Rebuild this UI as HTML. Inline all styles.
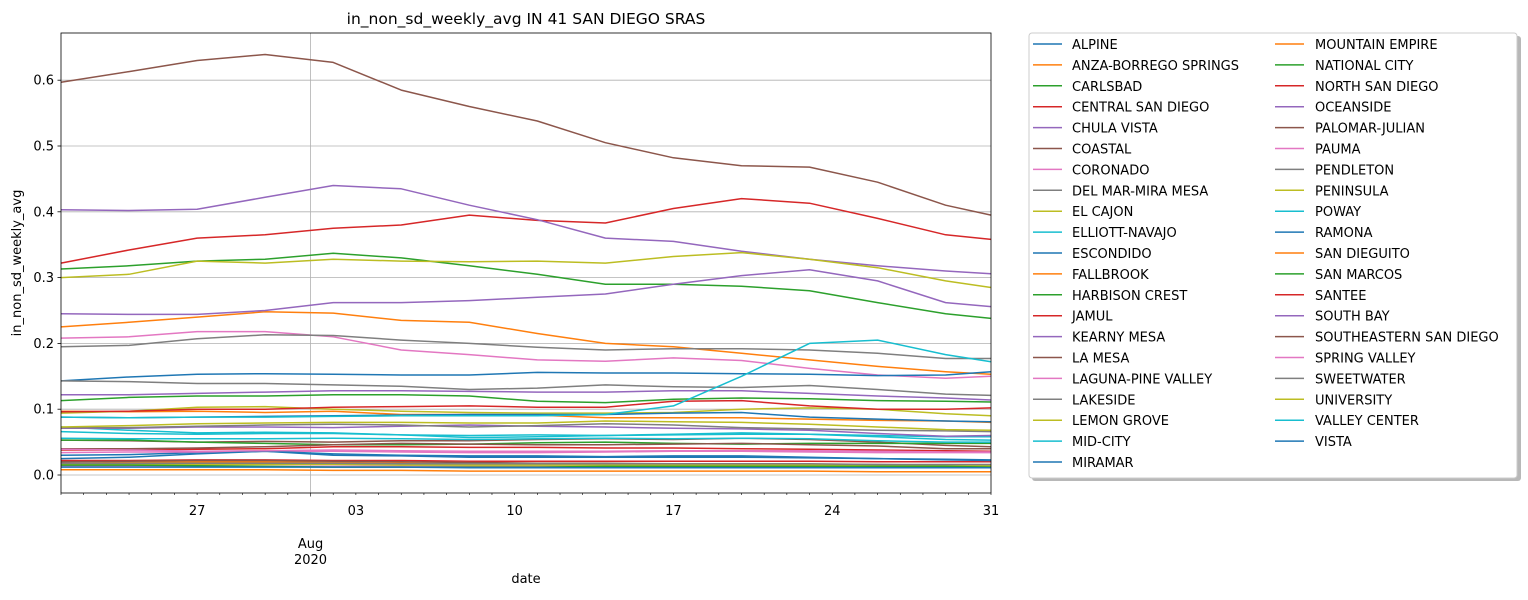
<!DOCTYPE html>
<html><head><meta charset="utf-8">
<style>
body{margin:0;background:#fff;width:1528px;height:596px;overflow:hidden;font-family:"DejaVu Sans","Liberation Sans",sans-serif;}
svg text{font-family:"DejaVu Sans","Liberation Sans",sans-serif;}
</style></head>
<body>
<svg id="chart" width="1528" height="596" xmlns="http://www.w3.org/2000/svg">
<text x="526" y="24" text-anchor="middle" font-size="15.5" fill="#000">in_non_sd_weekly_avg IN 41 SAN DIEGO SRAS</text>
<g id="grid"></g><g id="series"></g><g id="axes"></g><g id="legend"></g>
</svg>
<script>
const sampleDays = [0,3,6,9,12,15,18,21,24,27,30,33,36,39,41];
const yTicks = [0.0,0.1,0.2,0.3,0.4,0.5,0.6];
const xTickLabels = ["27","03","10","17","24","31"];
const xTickDays = [6,13,20,27,34,41];
const names = ["ALPINE","ANZA-BORREGO SPRINGS","CARLSBAD","CENTRAL SAN DIEGO","CHULA VISTA","COASTAL","CORONADO","DEL MAR-MIRA MESA","EL CAJON","ELLIOTT-NAVAJO","ESCONDIDO","FALLBROOK","HARBISON CREST","JAMUL","KEARNY MESA","LA MESA","LAGUNA-PINE VALLEY","LAKESIDE","LEMON GROVE","MID-CITY","MIRAMAR","MOUNTAIN EMPIRE","NATIONAL CITY","NORTH SAN DIEGO","OCEANSIDE","PALOMAR-JULIAN","PAUMA","PENDLETON","PENINSULA","POWAY","RAMONA","SAN DIEGUITO","SAN MARCOS","SANTEE","SOUTH BAY","SOUTHEASTERN SAN DIEGO","SPRING VALLEY","SWEETWATER","UNIVERSITY","VALLEY CENTER","VISTA"];
const s0=[0.03,0.031,0.034,0.036,0.03,0.029,0.027,0.027,0.027,0.027,0.027,0.026,0.025,0.024,0.023];
const s1=[0.225,0.232,0.24,0.248,0.246,0.235,0.232,0.215,0.2,0.195,0.185,0.175,0.165,0.157,0.153];
const s2=[0.313,0.318,0.325,0.328,0.337,0.33,0.318,0.305,0.29,0.29,0.287,0.28,0.262,0.245,0.238];
const s3=[0.322,0.342,0.36,0.365,0.375,0.38,0.395,0.387,0.383,0.405,0.42,0.413,0.39,0.365,0.358];
const s4=[0.403,0.402,0.404,0.422,0.44,0.435,0.41,0.388,0.36,0.355,0.34,0.328,0.318,0.31,0.306];
const s5=[0.597,0.613,0.63,0.639,0.627,0.585,0.56,0.538,0.505,0.482,0.47,0.468,0.445,0.41,0.395];
const s6=[0.208,0.21,0.218,0.218,0.21,0.19,0.183,0.175,0.173,0.178,0.174,0.162,0.152,0.147,0.15];
const s7=[0.195,0.197,0.207,0.213,0.212,0.205,0.2,0.194,0.19,0.192,0.192,0.19,0.185,0.177,0.177];
const s8=[0.30,0.305,0.325,0.322,0.328,0.325,0.324,0.325,0.322,0.332,0.338,0.328,0.315,0.295,0.285];
const s9=[0.073,0.068,0.064,0.065,0.064,0.061,0.057,0.058,0.06,0.062,0.064,0.062,0.058,0.054,0.053];
const s10=[0.143,0.149,0.153,0.154,0.153,0.152,0.152,0.156,0.155,0.155,0.154,0.153,0.151,0.152,0.157];
const s11=[0.097,0.096,0.097,0.095,0.097,0.092,0.092,0.091,0.087,0.087,0.087,0.085,0.083,0.082,0.08];
const s12=[0.113,0.118,0.12,0.12,0.122,0.122,0.12,0.112,0.11,0.115,0.117,0.116,0.113,0.112,0.111];
const s13=[0.022,0.022,0.023,0.023,0.022,0.022,0.021,0.021,0.021,0.021,0.021,0.021,0.02,0.02,0.02];
const s14=[0.122,0.122,0.124,0.126,0.128,0.128,0.127,0.126,0.126,0.128,0.128,0.124,0.12,0.117,0.114];
const s15=[0.053,0.052,0.05,0.051,0.05,0.052,0.052,0.054,0.055,0.054,0.056,0.054,0.05,0.045,0.043];
const s16=[0.034,0.035,0.035,0.036,0.036,0.035,0.034,0.034,0.035,0.036,0.036,0.035,0.034,0.034,0.034];
const s17=[0.143,0.142,0.139,0.139,0.137,0.135,0.13,0.132,0.137,0.134,0.133,0.136,0.13,0.123,0.121];
const s18=[0.094,0.097,0.103,0.104,0.1,0.097,0.095,0.094,0.094,0.095,0.1,0.102,0.1,0.093,0.09];
const s19=[0.066,0.063,0.062,0.063,0.063,0.061,0.06,0.061,0.06,0.061,0.062,0.062,0.06,0.058,0.058];
const s20=[0.088,0.087,0.088,0.089,0.09,0.091,0.092,0.092,0.092,0.094,0.095,0.088,0.085,0.082,0.081];
const s21=[0.018,0.019,0.02,0.02,0.019,0.018,0.017,0.016,0.016,0.015,0.015,0.015,0.014,0.014,0.014];
const s22=[0.053,0.053,0.05,0.048,0.046,0.046,0.047,0.049,0.05,0.048,0.047,0.048,0.048,0.048,0.048];
const s23=[0.096,0.097,0.1,0.1,0.103,0.104,0.105,0.103,0.103,0.112,0.113,0.105,0.1,0.1,0.102];
const s24=[0.071,0.071,0.073,0.073,0.072,0.074,0.076,0.074,0.073,0.071,0.07,0.068,0.063,0.059,0.06];
const s25=[0.02,0.021,0.022,0.022,0.021,0.02,0.019,0.018,0.018,0.017,0.017,0.016,0.016,0.015,0.015];
const s26=[0.014,0.014,0.014,0.013,0.013,0.013,0.013,0.013,0.013,0.013,0.013,0.013,0.013,0.012,0.012];
const s27=[0.072,0.072,0.074,0.076,0.077,0.076,0.073,0.075,0.078,0.076,0.072,0.07,0.068,0.067,0.066];
const s28=[0.016,0.016,0.016,0.016,0.016,0.015,0.015,0.015,0.015,0.015,0.015,0.015,0.014,0.014,0.014];
const s29=[0.088,0.087,0.088,0.088,0.089,0.09,0.09,0.09,0.092,0.105,0.15,0.2,0.205,0.183,0.172];
const s30=[0.025,0.027,0.032,0.036,0.032,0.03,0.029,0.029,0.028,0.029,0.029,0.027,0.025,0.023,0.022];
const s31=[0.008,0.008,0.008,0.008,0.007,0.007,0.006,0.006,0.006,0.006,0.006,0.006,0.005,0.005,0.005];
const s32=[0.015,0.015,0.014,0.013,0.012,0.012,0.012,0.012,0.013,0.013,0.013,0.013,0.013,0.013,0.012];
const s33=[0.038,0.038,0.039,0.04,0.043,0.043,0.042,0.042,0.041,0.041,0.04,0.039,0.038,0.037,0.036];
const s34=[0.245,0.244,0.244,0.25,0.262,0.262,0.265,0.27,0.275,0.29,0.303,0.312,0.295,0.262,0.256];
const s35=[0.04,0.04,0.041,0.043,0.046,0.048,0.047,0.046,0.046,0.047,0.048,0.046,0.044,0.04,0.04];
const s36=[0.039,0.038,0.036,0.037,0.038,0.037,0.036,0.036,0.036,0.037,0.037,0.037,0.036,0.035,0.035];
const s37=[0.018,0.018,0.018,0.018,0.018,0.017,0.017,0.017,0.017,0.017,0.017,0.017,0.016,0.016,0.016];
const s38=[0.073,0.075,0.078,0.079,0.08,0.08,0.079,0.079,0.082,0.081,0.08,0.077,0.073,0.069,0.068];
const s39=[0.056,0.055,0.055,0.055,0.056,0.055,0.054,0.055,0.056,0.055,0.056,0.055,0.052,0.05,0.05];
const s40=[0.012,0.012,0.012,0.012,0.012,0.012,0.011,0.011,0.011,0.011,0.011,0.011,0.011,0.011,0.011];
const seriesValues=[s0,s1,s2,s3,s4,s5,s6,s7,s8,s9,s10,s11,s12,s13,s14,s15,s16,s17,s18,s19,s20,s21,s22,s23,s24,s25,s26,s27,s28,s29,s30,s31,s32,s33,s34,s35,s36,s37,s38,s39,s40];

const palette=["#1f77b4","#ff7f0e","#2ca02c","#d62728","#9467bd","#8c564b","#e377c2","#7f7f7f","#bcbd22","#17becf"];
const NS="http://www.w3.org/2000/svg";
const L=61,R=991,T=33,B=493;
const x=d=>L+(d/41)*(R-L);
const y=v=>475-v*658;
function mk(tag,attrs,parent){const e=document.createElementNS(NS,tag);for(const k in attrs)e.setAttribute(k,attrs[k]);parent.appendChild(e);return e;}
const grid=document.getElementById('grid'),ser=document.getElementById('series'),axes=document.getElementById('axes'),leg=document.getElementById('legend');

yTicks.forEach(v=>{
  const g=mk('line',{x1:L,x2:R,y1:y(v),y2:y(v),stroke:'#b0b0b0','stroke-width':0.8},grid);
  
  
  const t=mk('line',{x1:L-3.5,x2:L,y1:y(v),y2:y(v),stroke:'#000','stroke-width':0.8},axes);
  
  
  const tx=mk('text',{x:L-7,y:y(v)+4.5,'text-anchor':'end','font-size':13},axes);
  tx.textContent=v.toFixed(1);
  
  
});
const vg=mk('line',{x1:x(11),x2:x(11),y1:T,y2:B,stroke:'#b0b0b0','stroke-width':0.8},grid);



seriesValues.forEach((vals,i)=>{
  const pts=vals.map((v,j)=>x(sampleDays[j]).toFixed(1)+','+y(v).toFixed(1)).join(' ');
  const p=mk('polyline',{points:pts,fill:'none',stroke:palette[i%10],'stroke-width':1.5,'stroke-linejoin':'round'},ser);
  
  
});

const frame=mk('rect',{x:L,y:T,width:R-L,height:B-T,fill:'none',stroke:'#000','stroke-width':0.8},axes);


for(let d=0;d<=41;d++){
  const t=mk('line',{x1:x(d),x2:x(d),y1:B,y2:B+(d===11?3.5:2),stroke:'#000','stroke-width':0.6},axes);
  
  
}
xTickLabels.forEach((lab,i)=>{
  const t=mk('text',{x:x(xTickDays[i]),y:515,'text-anchor':'middle','font-size':13},axes);
  t.textContent=lab;
  
  
});
[["Aug",548],["2020",564]].forEach(([s,yy])=>{
  const t=mk('text',{x:x(11),y:yy,'text-anchor':'middle','font-size':13},axes);
  t.textContent=s;
  
  
});
const xl=mk('text',{x:526,y:583,'text-anchor':'middle','font-size':13},axes);
xl.textContent='date';


const yl=mk('text',{x:21,y:263,'text-anchor':'middle','font-size':13,transform:'rotate(-90 21 263)'},axes);
yl.textContent='in_non_sd_weekly_avg';



const sh=mk('rect',{x:1032,y:36,width:489,height:445,rx:3,fill:'#888','fill-opacity':0.6},leg);


const box=mk('rect',{x:1029,y:33,width:488,height:445,rx:3,fill:'#fff',stroke:'#ccc','stroke-width':1},leg);


names.forEach((n,i)=>{
  const col=i<21?0:1, row=i<21?i:i-21;
  const lx=col?1275:1033, tx=col?1315:1072, yy=44+row*20.9;
  const g=mk('g',{},leg);
  
  
  mk('line',{x1:lx,x2:lx+29,y1:yy,y2:yy,stroke:palette[i%10],'stroke-width':1.5},g);
  const t=mk('text',{x:tx,y:yy+5,'font-size':13},g);
  t.textContent=n;
});
</script>
</body></html>
